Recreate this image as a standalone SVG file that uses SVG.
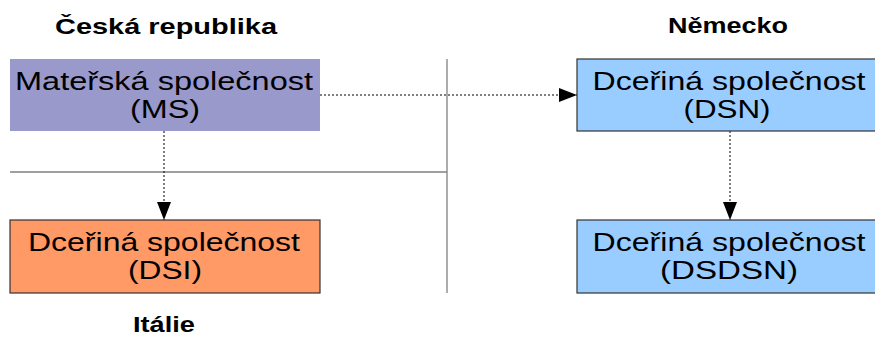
<svg xmlns="http://www.w3.org/2000/svg" width="875" height="337" viewBox="0 0 875 337">
  <style>
    .title { font-family: "Liberation Sans", Arial, sans-serif; font-weight: bold; font-size: 22px; fill: #000; text-anchor: middle; }
    .label { font-family: "Liberation Sans", Arial, sans-serif; font-size: 26px; fill: #000; text-anchor: middle; }
    .sep { stroke: #808080; stroke-width: 1.3; fill: none; }
    .box { stroke: #333333; stroke-width: 1.2; }
    .link { stroke: #000; stroke-width: 1; stroke-dasharray: 2 2; fill: none; }
  </style>
  <defs>
    <marker id="arrow" markerWidth="18" markerHeight="14" refX="18" refY="7" orient="auto" markerUnits="userSpaceOnUse">
      <path d="M0,0 L18,7 L0,14 Z" fill="#000"/>
    </marker>
  </defs>

  <rect width="875" height="337" fill="#ffffff"/>

  <!-- country separators -->
  <g id="separators">
    <line class="sep" x1="10" y1="172" x2="447" y2="172"/>
    <line class="sep" x1="447" y1="59" x2="447" y2="293"/>
  </g>

  <!-- country titles -->
  <g id="titles">
    <text class="title" x="166" y="34" textLength="222" lengthAdjust="spacingAndGlyphs">Česká republika</text>
    <text class="title" x="728" y="33" textLength="120" lengthAdjust="spacingAndGlyphs">Německo</text>
    <text class="title" x="164" y="332" textLength="62" lengthAdjust="spacingAndGlyphs">Itálie</text>
  </g>

  <!-- connectors -->
  <g id="connectors">
    <line class="link" x1="320" y1="95" x2="577" y2="95" marker-end="url(#arrow)"/>
    <line class="link" x1="164" y1="131" x2="164" y2="220" marker-end="url(#arrow)"/>
    <line class="link" x1="730" y1="131" x2="730" y2="220" marker-end="url(#arrow)"/>
  </g>

  <g id="ms">
    <rect x="10" y="59" width="310" height="72" fill="#9999cc"/>
    <text class="label" x="164" y="90" textLength="298" lengthAdjust="spacingAndGlyphs">Mateřská společnost</text>
    <text class="label" x="165" y="118" textLength="70" lengthAdjust="spacingAndGlyphs">(MS)</text>
  </g>

  <g id="dsn">
    <rect class="box" x="577" y="59" width="310" height="72" fill="#99ccff"/>
    <text class="label" x="729" y="90" textLength="273" lengthAdjust="spacingAndGlyphs">Dceřiná společnost</text>
    <text class="label" x="727" y="118" textLength="87" lengthAdjust="spacingAndGlyphs">(DSN)</text>
  </g>

  <g id="dsi">
    <rect class="box" x="10" y="220" width="310" height="73" fill="#ff9966"/>
    <text class="label" x="164" y="251" textLength="272" lengthAdjust="spacingAndGlyphs">Dceřiná společnost</text>
    <text class="label" x="165" y="279" textLength="74" lengthAdjust="spacingAndGlyphs">(DSI)</text>
  </g>

  <g id="dsdsn">
    <rect class="box" x="577" y="220" width="310" height="73" fill="#99ccff"/>
    <text class="label" x="729" y="251" textLength="273" lengthAdjust="spacingAndGlyphs">Dceřiná společnost</text>
    <text class="label" x="729" y="279" textLength="138" lengthAdjust="spacingAndGlyphs">(DSDSN)</text>
  </g>
</svg>
